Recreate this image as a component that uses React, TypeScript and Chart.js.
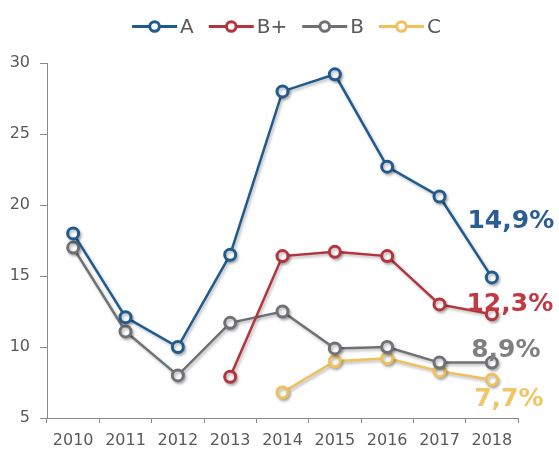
import React, { useEffect, useRef } from "react";
import { Chart, registerables } from "chart.js";

Chart.register(...registerables);

const categories = ["2010", "2011", "2012", "2013", "2014", "2015", "2016", "2017", "2018"];
const seriesNames = ["A", "B+", "B", "C"];
const seriesA = [18.0, 12.1, 10.0, 16.5, 28.0, 29.2, 22.7, 20.6, 14.9];
const seriesBPlus = [null, null, null, 7.9, 16.4, 16.7, 16.4, 13.0, 12.3];
const seriesB = [17.0, 11.1, 8.0, 11.7, 12.5, 9.9, 10.0, 8.9, 8.9];
const seriesC = [null, null, null, null, 6.8, 9.0, 9.2, 8.3, 7.7];
const endLabels = ["14,9%", "12,3%", "8,9%", "7,7%"];
const yTicks = [5, 10, 15, 20, 25, 30];

const lineColors = ["#1f5b8e", "#b5333c", "#6f7175", "#efc05c"];
const labelColors = ["#2b5f93", "#c13a42", "#7f7f7f", "#f1c766"];
const endLabelOffsets = [
  [19, -56],
  [18, -10],
  [14, -12],
  [17, 20],
];

const FONT = "'DejaVu Sans', 'Liberation Sans', Arial, sans-serif";

const shadowPlugin = {
  id: "lineShadow",
  beforeDatasetsDraw(chart: any) {
    const ctx = chart.ctx;
    ctx.save();
    ctx.shadowColor = "rgba(0,0,0,0.28)";
    ctx.shadowBlur = 3;
    ctx.shadowOffsetX = 1.5;
    ctx.shadowOffsetY = 2;
  },
  afterDatasetsDraw(chart: any) {
    chart.ctx.restore();
  },
};

const endLabelPlugin = {
  id: "endLabels",
  afterDatasetsDraw(chart: any) {
    const ctx = chart.ctx;
    ctx.save();
    ctx.font = `bold 25px ${FONT}`;
    ctx.textAlign = "center";
    ctx.textBaseline = "middle";
    chart.data.datasets.forEach((ds: any, i: number) => {
      const meta = chart.getDatasetMeta(i);
      const last = meta.data[meta.data.length - 1];
      if (!last) return;
      const [dx, dy] = endLabelOffsets[i];
      ctx.fillStyle = labelColors[i];
      ctx.fillText(endLabels[i], last.x + dx, last.y + dy);
    });
    ctx.restore();
  },
};

const legendPlugin = {
  id: "lineLegend",
  afterDraw(chart: any) {
    const ctx = chart.ctx;
    const lineW = 45;
    const textGap = 3;
    const itemGap = 15;
    const y = 26.5;
    const centerX = 286.5;
    ctx.save();
    ctx.font = `20px ${FONT}`;
    const items = chart.data.datasets.map((ds: any) => ({
      label: ds.label,
      color: ds.borderColor,
      w: lineW + textGap + ctx.measureText(ds.label).width,
    }));
    const total = items.reduce((s: number, it: any) => s + it.w, 0) + itemGap * (items.length - 1);
    let x = centerX - total / 2;
    items.forEach((it: any) => {
      ctx.strokeStyle = it.color;
      ctx.lineWidth = 3;
      ctx.beginPath();
      ctx.moveTo(x, y);
      ctx.lineTo(x + lineW, y);
      ctx.stroke();
      ctx.beginPath();
      ctx.arc(x + lineW / 2, y, 4.8, 0, Math.PI * 2);
      ctx.fillStyle = "#ffffff";
      ctx.fill();
      ctx.stroke();
      ctx.fillStyle = "#595959";
      ctx.textAlign = "left";
      ctx.textBaseline = "middle";
      ctx.fillText(it.label, x + lineW + textGap, y + 1);
      x += it.w + itemGap;
    });
    ctx.restore();
  },
};

export default function App() {
  const canvasRef = useRef<HTMLCanvasElement | null>(null);

  useEffect(() => {
    if (!canvasRef.current) return;
    const series = [seriesA, seriesBPlus, seriesB, seriesC];
    const chart = new Chart(canvasRef.current, {
      type: "line",
      data: {
        labels: categories,
        datasets: series.map((d, i) => ({
          label: seriesNames[i],
          data: d,
          borderColor: lineColors[i],
          backgroundColor: "#ffffff",
          pointBackgroundColor: "#ffffff",
          pointBorderColor: lineColors[i],
          pointRadius: 5.5,
          pointBorderWidth: 3,
          pointHoverRadius: 5.5,
          borderWidth: 2.5,
          tension: 0,
          spanGaps: false,
          clip: false as any,
        })),
      },
      options: {
        responsive: false,
        animation: false,
        devicePixelRatio: 1,
        layout: { padding: { top: 63, right: 41, bottom: 0, left: 0 } },
        plugins: {
          legend: { display: false },
          tooltip: { enabled: false },
        },
        scales: {
          x: {
            type: "category",
            offset: true,
            afterFit(scale: any) {
              scale.height = 32;
            },
            grid: {
              offset: true,
              drawOnChartArea: false,
              drawTicks: true,
              tickLength: 5,
              color: "#8a8a8a",
            },
            border: { display: true, color: "#8a8a8a", width: 1 },
            ticks: {
              color: "#595959",
              font: { family: FONT, size: 16 },
              padding: 8,
              maxRotation: 0,
              autoSkip: false,
            },
          },
          y: {
            min: 5,
            max: 30,
            afterFit(scale: any) {
              scale.width = 47;
            },
            afterBuildTicks(scale: any) {
              scale.ticks = yTicks.map((v) => ({ value: v }));
            },
            grid: {
              drawOnChartArea: false,
              drawTicks: true,
              tickLength: 7,
              color: "#8a8a8a",
            },
            border: { display: true, color: "#8a8a8a", width: 1 },
            ticks: {
              color: "#595959",
              font: { family: FONT, size: 16 },
              padding: 10,
            },
          },
        },
      },
      plugins: [shadowPlugin, endLabelPlugin, legendPlugin],
    });
    return () => chart.destroy();
  }, []);

  return (
    <div style={{ position: "absolute", left: 0, top: 0, width: 559, height: 450, background: "#ffffff" }}>
      <canvas ref={canvasRef} width={559} height={450} style={{ display: "block" }} />
    </div>
  );
}
